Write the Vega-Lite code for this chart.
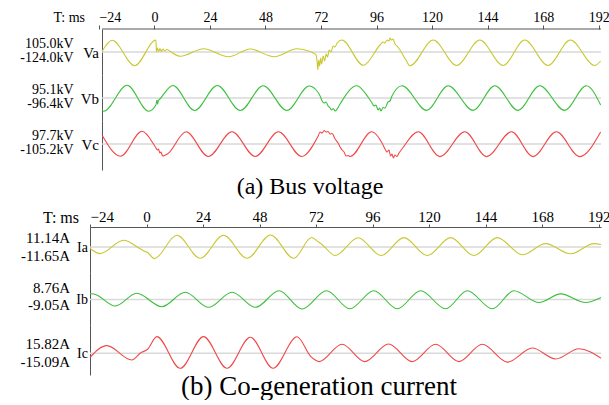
{
  "$schema": "https://vega.github.io/schema/vega-lite/v6.json",
  "background": "white",
  "padding": {"left": 19, "top": 10, "right": 0, "bottom": 0},
  "spacing": 0,
  "bounds": "flush",
  "config": {"view": {"stroke": null}, "font": "Liberation Serif, Times New Roman, serif",
             "axis": {"labelFont": "Liberation Serif, Times New Roman, serif", "titleFont": "Liberation Serif, Times New Roman, serif"}},
  "datasets": {
    "Va": [{"t":-22.61,"v":6},{"t":-18.25,"v":94},{"t":-8.5,"v":-110},{"t":0.65,"v":96},{"t":0.86,"v":0},{"t":1.29,"v":32},{"t":1.81,"v":4},{"t":2.37,"v":28},{"t":3.02,"v":4},{"t":3.67,"v":24},{"t":4.53,"v":8},{"t":5.39,"v":20},{"t":6.9,"v":4},{"t":11.22,"v":-34},{"t":21.27,"v":26},{"t":32.05,"v":-38},{"t":41.42,"v":24},{"t":51.77,"v":-38},{"t":61.56,"v":26},{"t":67.3,"v":4},{"t":68.72,"v":-8},{"t":69.89,"v":-24},{"t":70.32,"v":-80},{"t":70.62,"v":-142},{"t":70.97,"v":-64},{"t":71.4,"v":-112},{"t":71.83,"v":-48},{"t":72.26,"v":-96},{"t":72.91,"v":-32},{"t":73.56,"v":-72},{"t":74.2,"v":-16},{"t":74.85,"v":-40},{"t":75.5,"v":16},{"t":76.36,"v":0},{"t":77.22,"v":48},{"t":78.08,"v":40},{"t":78.95,"v":72},{"t":80.97,"v":96},{"t":90.29,"v":-106},{"t":97.5,"v":56},{"t":98.79,"v":80},{"t":99.65,"v":72},{"t":100.52,"v":96},{"t":101.38,"v":88},{"t":101.81,"v":112},{"t":102.46,"v":96},{"t":103.11,"v":104},{"t":103.97,"v":64},{"t":104.83,"v":48},{"t":106.13,"v":16},{"t":107.42,"v":-24},{"t":108.71,"v":-64},{"t":110.44,"v":-110},{"t":120.49,"v":96},{"t":130.59,"v":-108},{"t":140.64,"v":96},{"t":150.69,"v":-108},{"t":160.05,"v":96},{"t":170.1,"v":-108},{"t":179.77,"v":96},{"t":190.25,"v":-108},{"t":192.84,"v":-72}],
    "Vb": [{"t":-22.61,"v":-94},{"t":-21.92,"v":-106},{"t":-11.82,"v":102},{"t":-2.5,"v":-106},{"t":0.65,"v":-56},{"t":1.08,"v":-16},{"t":1.38,"v":-48},{"t":1.73,"v":-20},{"t":2.16,"v":-12},{"t":7.98,"v":100},{"t":17.39,"v":-100},{"t":27.18,"v":100},{"t":37.1,"v":-100},{"t":47.02,"v":98},{"t":57.25,"v":-100},{"t":66.87,"v":96},{"t":69.89,"v":64},{"t":71.61,"v":16},{"t":72.48,"v":-24},{"t":73.34,"v":-40},{"t":74.2,"v":-32},{"t":75.06,"v":-64},{"t":75.93,"v":-80},{"t":76.57,"v":-96},{"t":77.35,"v":-84},{"t":78.08,"v":-104},{"t":78.95,"v":-88},{"t":80.24,"v":-48},{"t":87.45,"v":98},{"t":92.32,"v":8},{"t":94.05,"v":-40},{"t":94.91,"v":-64},{"t":95.77,"v":-56},{"t":96.64,"v":-96},{"t":97.28,"v":-80},{"t":97.93,"v":-104},{"t":98.79,"v":-76},{"t":99.65,"v":-80},{"t":100.95,"v":-32},{"t":101.81,"v":-24},{"t":102.67,"v":16},{"t":106.99,"v":98},{"t":117.64,"v":-99},{"t":126.96,"v":98},{"t":137.75,"v":-99},{"t":147.11,"v":98},{"t":157.16,"v":-99},{"t":166.52,"v":98},{"t":177.31,"v":-99},{"t":186.67,"v":98},{"t":192.84,"v":-56}],
    "Vc": [{"t":-22.61,"v":70},{"t":-14.67,"v":-98},{"t":-5.31,"v":102},{"t":0.43,"v":-24},{"t":1.29,"v":-48},{"t":1.73,"v":-40},{"t":2.37,"v":-72},{"t":2.8,"v":-64},{"t":3.45,"v":-92},{"t":4.01,"v":-96},{"t":4.75,"v":-88},{"t":5.61,"v":-80},{"t":13.68,"v":98},{"t":23.3,"v":-100},{"t":33.52,"v":98},{"t":43.57,"v":-100},{"t":53.62,"v":98},{"t":63.63,"v":-100},{"t":70.75,"v":64},{"t":71.61,"v":96},{"t":72.48,"v":88},{"t":73.34,"v":108},{"t":74.2,"v":96},{"t":75.06,"v":100},{"t":75.93,"v":80},{"t":76.79,"v":84},{"t":78.08,"v":40},{"t":79.38,"v":8},{"t":80.24,"v":-24},{"t":81.1,"v":-48},{"t":81.97,"v":-64},{"t":82.83,"v":-96},{"t":83.69,"v":-92},{"t":84.56,"v":-100},{"t":93.92,"v":98},{"t":98.36,"v":8},{"t":99.65,"v":-40},{"t":100.52,"v":-64},{"t":101.38,"v":-48},{"t":102.03,"v":-96},{"t":102.67,"v":-80},{"t":103.24,"v":-112},{"t":103.97,"v":-88},{"t":104.83,"v":-100},{"t":105.69,"v":-72},{"t":106.99,"v":-40},{"t":114.02,"v":98},{"t":123.38,"v":-101},{"t":134.17,"v":98},{"t":143.53,"v":-101},{"t":154.31,"v":98},{"t":163.63,"v":-101},{"t":173.73,"v":98},{"t":183.78,"v":-101},{"t":192.84,"v":96}],
    "Ia": [{"t":-24,"v":-1.5},{"t":-19.67,"v":-6.6},{"t":-9.77,"v":6.7},{"t":-2.55,"v":-2},{"t":-0.55,"v":-4.5},{"t":0.42,"v":-5.5},{"t":3.3,"v":-11.6},{"t":12.87,"v":11.7},{"t":22.81,"v":-11.3},{"t":32.71,"v":11.7},{"t":42.69,"v":-11.3},{"t":52.68,"v":12},{"t":62.53,"v":-11.3},{"t":70.09,"v":9.5},{"t":73.07,"v":5},{"t":74.77,"v":2},{"t":80.08,"v":-8.5},{"t":89.85,"v":9.3},{"t":99.62,"v":-8.5},{"t":109.3,"v":9.4},{"t":119.24,"v":-8.5},{"t":129.14,"v":9.4},{"t":139.04,"v":-8.5},{"t":148.98,"v":9.4},{"t":159.6,"v":-7.8},{"t":169.5,"v":3.4},{"t":180.12,"v":-6.8},{"t":190.02,"v":3.4},{"t":193,"v":2.5}],
    "Ib": [{"t":-24,"v":6},{"t":-21.67,"v":5},{"t":-13.3,"v":-6.5},{"t":-4.12,"v":6.2},{"t":6.5,"v":-7.2},{"t":16.44,"v":7.2},{"t":26.34,"v":-7.8},{"t":36.32,"v":7.2},{"t":46.3,"v":-7.8},{"t":56.29,"v":8.8},{"t":66.06,"v":-9.5},{"t":76.47,"v":8.8},{"t":86.36,"v":-9.3},{"t":96.52,"v":8.8},{"t":106.5,"v":-9.3},{"t":116.4,"v":8.8},{"t":127.02,"v":-9.3},{"t":136.24,"v":8.8},{"t":146.86,"v":-9.3},{"t":156.03,"v":8.8},{"t":166.65,"v":-3},{"t":175.87,"v":5.6},{"t":186.49,"v":-3},{"t":193,"v":2}],
    "Ic": [{"t":-24,"v":-4},{"t":-16.86,"v":7.7},{"t":-6.24,"v":-6.7},{"t":-2.12,"v":1},{"t":-0.55,"v":2.5},{"t":0.42,"v":4},{"t":4.38,"v":16.7},{"t":14.32,"v":-15},{"t":24.21,"v":16.7},{"t":34.2,"v":-15},{"t":44.1,"v":16},{"t":53.74,"v":-15},{"t":63.93,"v":16.5},{"t":69.67,"v":-3},{"t":71.67,"v":-6.7},{"t":73.28,"v":-8.3},{"t":83.05,"v":9},{"t":92.61,"v":-8.3},{"t":102.8,"v":9.3},{"t":112.87,"v":-8.3},{"t":122.77,"v":9},{"t":132.67,"v":-8.3},{"t":142.61,"v":9},{"t":153.23,"v":-8.8},{"t":163.85,"v":5.3},{"t":173.75,"v":-5.7},{"t":183.65,"v":4.5},{"t":193,"v":-5}]
  },
  "vconcat": [
    {
      "width": 511, "height": 46,
      "encoding": {
        "x": {"type": "quantitative", "scale": {"domain": [-27.84, 193], "nice": false, "zero": false},
              "axis": {"orient": "top", "values": [-24, 0, 24, 48, 72, 96, 120, 144, 168, 192], "domain": false, "ticks": true, "tickSize": 4, "tickColor": "#555555", "grid": false,
                       "labelFontSize": 14, "labelColor": "black", "labelPadding": 1,
                       "labelAlign": {"condition": {"test": "datum.value == -24", "value": "left"}, "value": "center"},
                       "title": "T: ms", "titleFontSize": 14, "titleFontWeight": "normal", "titleColor": "black", "titleX": -5.5, "titleY": -12, "titleAlign": "right", "titleBaseline": "middle"}},
        "y": {"type": "quantitative", "scale": {"domain": [-184, 184], "nice": false, "zero": false},
              "axis": {"orient": "left", "offset": -12, "values": [0], "labelExpr": "'Va'", "ticks": false, "tickSize": 0, "grid": false, "domain": true, "domainColor": "#555555",
                       "labelFontSize": 15, "labelColor": "black", "labelPadding": 3.5,
                       "title": ["105.0kV", "-124.0kV"], "titleFontSize": 14, "titleFontWeight": "normal", "titleColor": "black", "titleAngle": 0, "titleAlign": "right", "titleBaseline": "top", "titleX": -29, "titleY": 7.5, "titleLineHeight": 14}}
      },
      "layer": [
        {"data": {"values": [{"a": 0}]}, "mark": {"type": "rule", "color": "#d9d9d9", "strokeWidth": 1.5},
         "encoding": {"x": {"datum": -22.6}, "x2": {"datum": 193}, "y": {"datum": 0}}},
        {"data": {"values": [{"a": 0}]}, "mark": {"type": "rule", "color": "#555555", "strokeWidth": 1},
         "encoding": {"x": {"datum": -22.6}, "x2": {"datum": 193}, "y": {"datum": 184}}},
        {"data": {"name": "Va"}, "mark": {"type": "line", "color": "#c8c832", "strokeWidth": 1.1, "interpolate": "monotone"},
         "encoding": {"x": {"field": "t"}, "y": {"field": "v"}}}
      ]
    },
    {
      "width": 511, "height": 46,
      "encoding": {
        "x": {"type": "quantitative", "scale": {"domain": [-27.84, 193], "nice": false, "zero": false}, "axis": null},
        "y": {"type": "quantitative", "scale": {"domain": [-184, 184], "nice": false, "zero": false},
              "axis": {"orient": "left", "offset": -12, "values": [0], "labelExpr": "'Vb'", "ticks": false, "tickSize": 0, "grid": false, "domain": true, "domainColor": "#555555",
                       "labelFontSize": 15, "labelColor": "black", "labelPadding": 3.5,
                       "title": ["95.1kV", "-96.4kV"], "titleFontSize": 14, "titleFontWeight": "normal", "titleColor": "black", "titleAngle": 0, "titleAlign": "right", "titleBaseline": "top", "titleX": -29, "titleY": 7.5, "titleLineHeight": 14}}
      },
      "layer": [
        {"data": {"values": [{"a": 0}]}, "mark": {"type": "rule", "color": "#d9d9d9", "strokeWidth": 1.5},
         "encoding": {"x": {"datum": -22.6}, "x2": {"datum": 193}, "y": {"datum": 0}}},
        {"data": {"name": "Vb"}, "mark": {"type": "line", "color": "#3cc03c", "strokeWidth": 1.1, "interpolate": "monotone"},
         "encoding": {"x": {"field": "t"}, "y": {"field": "v"}}}
      ]
    },
    {
      "width": 511, "height": 49,
      "encoding": {
        "x": {"type": "quantitative", "scale": {"domain": [-27.84, 193], "nice": false, "zero": false},
              "axis": {"orient": "bottom", "domain": false, "ticks": false, "labels": false, "grid": false,
                       "title": "(a) Bus voltage", "titleFontSize": 24, "titleFontWeight": "normal", "titleColor": "black", "titleX": 219.5, "titleY": 23, "titleAlign": "center", "titleBaseline": "alphabetic"}},
        "y": {"type": "quantitative", "scale": {"domain": [-208, 184], "nice": false, "zero": false},
              "axis": {"orient": "left", "offset": -12, "values": [0], "labelExpr": "'Vc'", "ticks": false, "tickSize": 0, "grid": false, "domain": true, "domainColor": "#555555",
                       "labelFontSize": 15, "labelColor": "black", "labelPadding": 3.5,
                       "title": ["97.7kV", "-105.2kV"], "titleFontSize": 14, "titleFontWeight": "normal", "titleColor": "black", "titleAngle": 0, "titleAlign": "right", "titleBaseline": "top", "titleX": -29, "titleY": 7.5, "titleLineHeight": 14}}
      },
      "layer": [
        {"data": {"values": [{"a": 0}]}, "mark": {"type": "rule", "color": "#d9d9d9", "strokeWidth": 1.5},
         "encoding": {"x": {"datum": -22.6}, "x2": {"datum": 193}, "y": {"datum": 0}}},
        {"data": {"name": "Vc"}, "mark": {"type": "line", "color": "#f04848", "strokeWidth": 1.1, "interpolate": "monotone"},
         "encoding": {"x": {"field": "t"}, "y": {"field": "v"}}}
      ]
    },
    {
      "width": 511, "height": 57,
      "data": {"values": [{"a": 0}]},
      "mark": {"type": "point", "opacity": 0},
      "encoding": {}
    },
    {
      "width": 511, "height": 46,
      "encoding": {
        "x": {"type": "quantitative", "scale": {"domain": [-24, 193], "nice": false, "zero": false},
              "axis": {"orient": "top", "values": [-24, 0, 24, 48, 72, 96, 120, 144, 168, 192], "domain": true, "domainColor": "#555555", "ticks": true, "tickSize": 3, "tickColor": "#555555", "grid": false,
                       "labelFontSize": 15, "labelColor": "black", "labelPadding": 0,
                       "labelAlign": {"condition": {"test": "datum.value == -24", "value": "left"}, "value": "center"},
                       "title": "T: ms", "titleFontSize": 16, "titleFontWeight": "normal", "titleColor": "black", "titleX": -11.5, "titleY": -10, "titleAlign": "right", "titleBaseline": "middle"}},
        "y": {"type": "quantitative", "scale": {"domain": [-26, 20], "nice": false, "zero": false},
              "axis": {"orient": "left", "values": [0], "labelExpr": "'Ia'", "ticks": false, "tickSize": 0, "grid": false, "domain": true, "domainColor": "#555555",
                       "labelFontSize": 14, "labelColor": "black", "labelPadding": 2.5,
                       "title": ["11.14A", "-11.65A"], "titleFontSize": 15, "titleFontWeight": "normal", "titleColor": "black", "titleAngle": 0, "titleAlign": "right", "titleBaseline": "top", "titleX": -20.5, "titleY": 3.75, "titleLineHeight": 17.5}}
      },
      "layer": [
        {"data": {"values": [{"a": 0}]}, "mark": {"type": "rule", "color": "#d9d9d9", "strokeWidth": 1.5},
         "encoding": {"x": {"datum": -24}, "x2": {"datum": 193}, "y": {"datum": 0}}},
        {"data": {"name": "Ia"}, "mark": {"type": "line", "color": "#c8c832", "strokeWidth": 1.1, "interpolate": "monotone"},
         "encoding": {"x": {"field": "t"}, "y": {"field": "v"}}}
      ]
    },
    {
      "width": 511, "height": 52,
      "encoding": {
        "x": {"type": "quantitative", "scale": {"domain": [-24, 193], "nice": false, "zero": false}, "axis": null},
        "y": {"type": "quantitative", "scale": {"domain": [-25.5, 26.5], "nice": false, "zero": false},
              "axis": {"orient": "left", "values": [0], "labelExpr": "'Ib'", "ticks": false, "tickSize": 0, "grid": false, "domain": true, "domainColor": "#555555",
                       "labelFontSize": 14, "labelColor": "black", "labelPadding": 2.5,
                       "title": ["8.76A", "-9.05A"], "titleFontSize": 15, "titleFontWeight": "normal", "titleColor": "black", "titleAngle": 0, "titleAlign": "right", "titleBaseline": "top", "titleX": -20.5, "titleY": 7, "titleLineHeight": 17.5}}
      },
      "layer": [
        {"data": {"values": [{"a": 0}]}, "mark": {"type": "rule", "color": "#d9d9d9", "strokeWidth": 1.5},
         "encoding": {"x": {"datum": -24}, "x2": {"datum": 193}, "y": {"datum": 0}}},
        {"data": {"name": "Ib"}, "mark": {"type": "line", "color": "#3cc03c", "strokeWidth": 1.1, "interpolate": "monotone"},
         "encoding": {"x": {"field": "t"}, "y": {"field": "v"}}}
      ]
    },
    {
      "width": 511, "height": 50,
      "encoding": {
        "x": {"type": "quantitative", "scale": {"domain": [-24, 193], "nice": false, "zero": false},
              "axis": {"orient": "bottom", "domain": false, "ticks": false, "labels": false, "grid": false,
                       "title": "(b) Co-generation current", "titleFontSize": 27, "titleFontWeight": "normal", "titleColor": "black", "titleX": 228.5, "titleY": 19.3, "titleAlign": "center", "titleBaseline": "alphabetic"}},
        "y": {"type": "quantitative", "scale": {"domain": [-21.7, 28.3], "nice": false, "zero": false},
              "axis": {"orient": "left", "values": [0], "labelExpr": "'Ic'", "ticks": false, "tickSize": 0, "grid": false, "domain": true, "domainColor": "#555555",
                       "labelFontSize": 14, "labelColor": "black", "labelPadding": 2.5,
                       "title": ["15.82A", "-15.09A"], "titleFontSize": 15, "titleFontWeight": "normal", "titleColor": "black", "titleAngle": 0, "titleAlign": "right", "titleBaseline": "top", "titleX": -20.5, "titleY": 11.5, "titleLineHeight": 17.5}}
      },
      "layer": [
        {"data": {"values": [{"a": 0}]}, "mark": {"type": "rule", "color": "#d9d9d9", "strokeWidth": 1.5},
         "encoding": {"x": {"datum": -24}, "x2": {"datum": 193}, "y": {"datum": 0}}},
        {"data": {"name": "Ic"}, "mark": {"type": "line", "color": "#f04848", "strokeWidth": 1.1, "interpolate": "monotone"},
         "encoding": {"x": {"field": "t"}, "y": {"field": "v"}}}
      ]
    }
  ]
}
